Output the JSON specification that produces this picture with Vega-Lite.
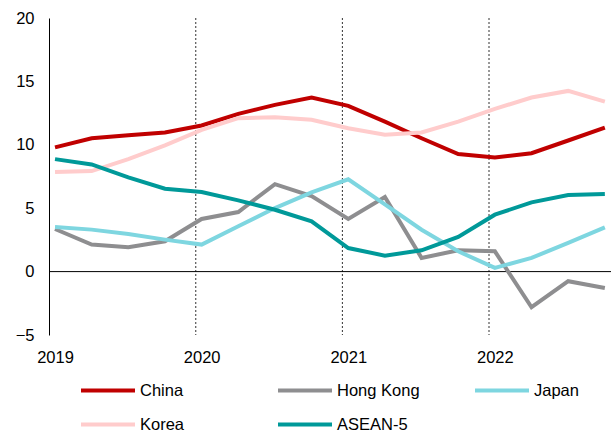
{
  "$schema": "https://vega.github.io/schema/vega-lite/v6.json",
  "width": 562,
  "height": 317,
  "autosize": {"type": "none"},
  "padding": {"left": 49, "top": 18, "right": 2, "bottom": 95},
  "background": "white",
  "config": {
    "view": {"stroke": null},
    "font": "Liberation Sans",
    "axis": {"labelFont": "Liberation Sans", "labelColor": "#000", "labelFontSize": 16.5},
    "legend": {"labelFont": "Liberation Sans", "labelColor": "#000", "labelFontSize": 16.5}
  },
  "datasets": {
    "series": [
      {"country": "China", "t": 2019.0, "v": 9.8},
      {"country": "China", "t": 2019.25, "v": 10.52},
      {"country": "China", "t": 2019.5, "v": 10.76},
      {"country": "China", "t": 2019.75, "v": 10.97},
      {"country": "China", "t": 2020.0, "v": 11.52},
      {"country": "China", "t": 2020.25, "v": 12.44},
      {"country": "China", "t": 2020.5, "v": 13.15},
      {"country": "China", "t": 2020.75, "v": 13.72},
      {"country": "China", "t": 2021.0, "v": 13.07},
      {"country": "China", "t": 2021.25, "v": 11.83},
      {"country": "China", "t": 2021.5, "v": 10.52},
      {"country": "China", "t": 2021.75, "v": 9.27},
      {"country": "China", "t": 2022.0, "v": 9.0},
      {"country": "China", "t": 2022.25, "v": 9.34},
      {"country": "China", "t": 2022.5, "v": 10.34},
      {"country": "China", "t": 2022.75, "v": 11.36},
      {"country": "Hong Kong", "t": 2019.0, "v": 3.36},
      {"country": "Hong Kong", "t": 2019.25, "v": 2.13},
      {"country": "Hong Kong", "t": 2019.5, "v": 1.92},
      {"country": "Hong Kong", "t": 2019.75, "v": 2.39},
      {"country": "Hong Kong", "t": 2020.0, "v": 4.15},
      {"country": "Hong Kong", "t": 2020.25, "v": 4.7},
      {"country": "Hong Kong", "t": 2020.5, "v": 6.9},
      {"country": "Hong Kong", "t": 2020.75, "v": 5.95},
      {"country": "Hong Kong", "t": 2021.0, "v": 4.15},
      {"country": "Hong Kong", "t": 2021.25, "v": 5.88},
      {"country": "Hong Kong", "t": 2021.5, "v": 1.08},
      {"country": "Hong Kong", "t": 2021.75, "v": 1.68},
      {"country": "Hong Kong", "t": 2022.0, "v": 1.6},
      {"country": "Hong Kong", "t": 2022.25, "v": -2.81},
      {"country": "Hong Kong", "t": 2022.5, "v": -0.76},
      {"country": "Hong Kong", "t": 2022.75, "v": -1.29},
      {"country": "Japan", "t": 2019.0, "v": 3.52},
      {"country": "Japan", "t": 2019.25, "v": 3.31},
      {"country": "Japan", "t": 2019.5, "v": 2.97},
      {"country": "Japan", "t": 2019.75, "v": 2.52},
      {"country": "Japan", "t": 2020.0, "v": 2.13},
      {"country": "Japan", "t": 2020.25, "v": 3.57},
      {"country": "Japan", "t": 2020.5, "v": 5.01},
      {"country": "Japan", "t": 2020.75, "v": 6.25},
      {"country": "Japan", "t": 2021.0, "v": 7.28},
      {"country": "Japan", "t": 2021.25, "v": 5.3},
      {"country": "Japan", "t": 2021.5, "v": 3.3},
      {"country": "Japan", "t": 2021.75, "v": 1.6},
      {"country": "Japan", "t": 2022.0, "v": 0.29},
      {"country": "Japan", "t": 2022.25, "v": 1.08},
      {"country": "Japan", "t": 2022.5, "v": 2.26},
      {"country": "Japan", "t": 2022.75, "v": 3.49},
      {"country": "Korea", "t": 2019.0, "v": 7.85},
      {"country": "Korea", "t": 2019.25, "v": 7.93},
      {"country": "Korea", "t": 2019.5, "v": 8.87},
      {"country": "Korea", "t": 2019.75, "v": 9.95},
      {"country": "Korea", "t": 2020.0, "v": 11.18},
      {"country": "Korea", "t": 2020.25, "v": 12.1},
      {"country": "Korea", "t": 2020.5, "v": 12.18},
      {"country": "Korea", "t": 2020.75, "v": 11.97},
      {"country": "Korea", "t": 2021.0, "v": 11.31},
      {"country": "Korea", "t": 2021.25, "v": 10.79},
      {"country": "Korea", "t": 2021.5, "v": 10.97},
      {"country": "Korea", "t": 2021.75, "v": 11.83},
      {"country": "Korea", "t": 2022.0, "v": 12.83},
      {"country": "Korea", "t": 2022.25, "v": 13.73},
      {"country": "Korea", "t": 2022.5, "v": 14.25},
      {"country": "Korea", "t": 2022.75, "v": 13.41},
      {"country": "ASEAN-5", "t": 2019.0, "v": 8.87},
      {"country": "ASEAN-5", "t": 2019.25, "v": 8.45},
      {"country": "ASEAN-5", "t": 2019.5, "v": 7.43},
      {"country": "ASEAN-5", "t": 2019.75, "v": 6.54},
      {"country": "ASEAN-5", "t": 2020.0, "v": 6.27},
      {"country": "ASEAN-5", "t": 2020.25, "v": 5.62},
      {"country": "ASEAN-5", "t": 2020.5, "v": 4.88},
      {"country": "ASEAN-5", "t": 2020.75, "v": 3.96},
      {"country": "ASEAN-5", "t": 2021.0, "v": 1.86},
      {"country": "ASEAN-5", "t": 2021.25, "v": 1.26},
      {"country": "ASEAN-5", "t": 2021.5, "v": 1.68},
      {"country": "ASEAN-5", "t": 2021.75, "v": 2.73},
      {"country": "ASEAN-5", "t": 2022.0, "v": 4.49},
      {"country": "ASEAN-5", "t": 2022.25, "v": 5.46},
      {"country": "ASEAN-5", "t": 2022.5, "v": 6.04},
      {"country": "ASEAN-5", "t": 2022.75, "v": 6.12}
    ],
    "years": [
      {"t": 2019.96},
      {"t": 2020.96},
      {"t": 2021.96}
    ],
    "zero": [
      {"v": 0}
    ]
  },
  "layer": [
    {
      "data": {"name": "years"},
      "mark": {"type": "rule", "color": "#333", "strokeWidth": 1, "strokeDash": [2, 2]},
      "encoding": {
        "x": {"field": "t", "type": "quantitative"}
      }
    },
    {
      "data": {"name": "zero"},
      "mark": {"type": "rule", "color": "#000", "strokeWidth": 1},
      "encoding": {
        "y": {"field": "v", "type": "quantitative"}
      }
    },
    {
      "data": {"name": "series"},
      "mark": {"type": "line", "strokeWidth": 4, "strokeJoin": "miter", "clip": false},
      "encoding": {
        "x": {
          "field": "t", "type": "quantitative",
          "scale": {"domain": [2018.959, 2022.792], "nice": false, "zero": false},
          "axis": {"values": [2019, 2020, 2021, 2022], "format": "d", "title": null, "domain": false, "ticks": false, "grid": false, "labelPadding": 14, "labelFlush": false}
        },
        "y": {
          "field": "v", "type": "quantitative",
          "scale": {"domain": [-5, 20], "nice": false},
          "axis": {"values": [-5, 0, 5, 10, 15, 20], "title": null, "domain": true, "domainColor": "#000", "domainWidth": 1, "ticks": false, "grid": false, "labelPadding": 15}
        },
        "color": {
          "field": "country", "type": "nominal",
          "sort": ["China", "Hong Kong", "Japan", "Korea", "ASEAN-5"],
          "scale": {
            "domain": ["China", "Hong Kong", "Japan", "Korea", "ASEAN-5"],
            "range": ["#C00000", "#8E8E90", "#7ED6E0", "#FFCCCC", "#009999"]
          },
          "legend": {
            "title": null,
            "orient": "none",
            "legendX": 57,
            "legendY": 357,
            "columns": 3,
            "direction": "horizontal",
            "symbolType": "M-3,0H1",
            "symbolSize": 729,
            "symbolStrokeWidth": 4,
            "labelOffset": 3,
            "gridAlign": "all",
            "columnPadding": 47,
            "rowPadding": 10,
            "padding": 0
          }
        }
      }
    }
  ]
}
